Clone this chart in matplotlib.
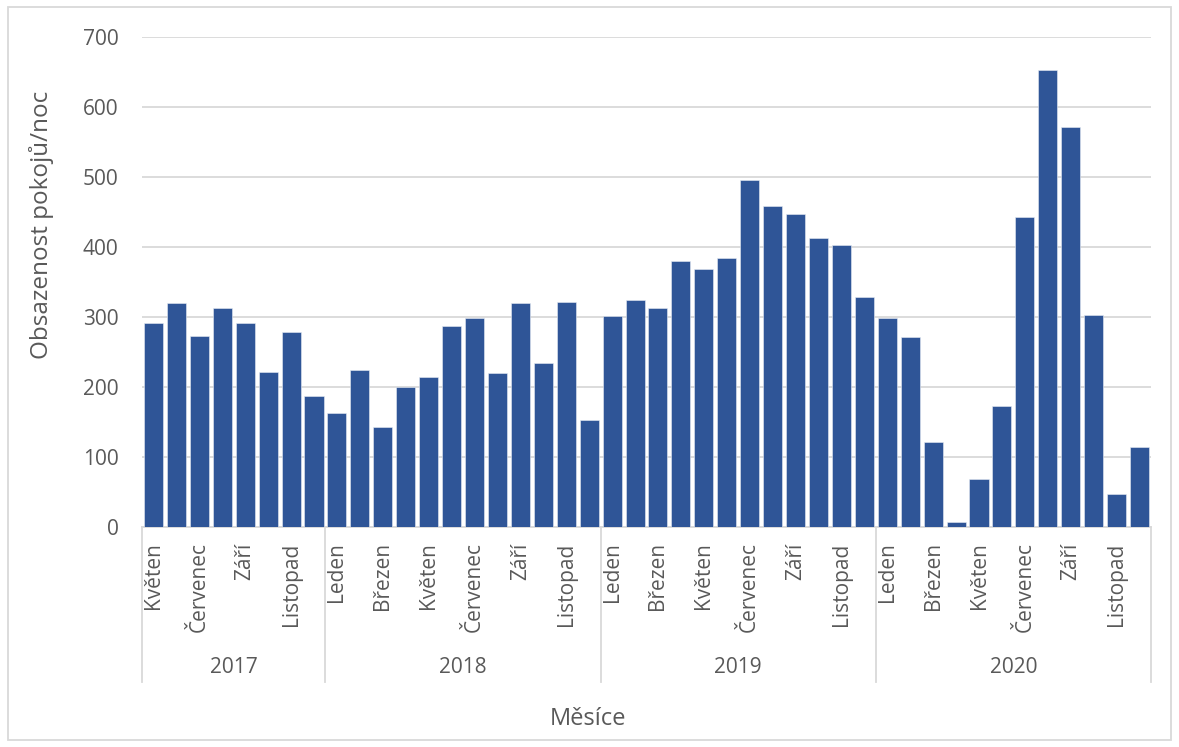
import matplotlib.pyplot as plt
from matplotlib.patches import Rectangle
import matplotlib.transforms as mtransforms

plt.rcParams['font.family'] = ['Open Sans', 'DejaVu Sans']

months = ['Leden', 'Únor', 'Březen', 'Duben', 'Květen', 'Červen',
          'Červenec', 'Srpen', 'Září', 'Říjen', 'Listopad', 'Prosinec']
years = ['2017', '2018', '2019', '2020']

# 2017 starts in May
values_2017 = [291, 320, 273, 313, 291, 221, 278, 187]
values_2018 = [163, 225, 143, 200, 215, 287, 298, 220, 320, 235, 321, 153]
values_2019 = [301, 325, 313, 380, 369, 385, 496, 458, 447, 413, 403, 329]
values_2020 = [298, 271, 121, 7, 69, 173, 443, 653, 571, 303, 47, 115]

series = [values_2017, values_2018, values_2019, values_2020]
first_month = [4, 0, 0, 0]

values = []
labels = []
year_spans = []
for yr, vals, m0 in zip(years, series, first_month):
    start = len(values)
    for i, v in enumerate(vals):
        values.append(v)
        labels.append(months[m0 + i])
    year_spans.append((yr, start, len(values)))

text_col = '#595959'
grid_col = '#D9D9D9'
bar_col = '#2F5597'

fig = plt.figure(figsize=(11.79, 7.47), dpi=100)
ax = fig.add_axes([142/1179, 1 - 527/747, (1151 - 142)/1179, 490/747])

x = list(range(len(values)))
ax.bar(x, values, width=0.83, color=bar_col, edgecolor='#E8EDF5', linewidth=0.4, zorder=3)

ax.set_xlim(-0.5, len(values) - 0.5)
ax.set_ylim(0, 700)
ax.set_yticks(range(0, 701, 100))
ax.yaxis.grid(True, color=grid_col, linewidth=1.3, zorder=0)
ax.tick_params(axis='y', length=0, pad=17, labelsize=15, labelcolor=text_col)

tick_pos = [i for i in x if i % 2 == 0]
ax.set_xticks(tick_pos)
ax.set_xticklabels([labels[i] for i in tick_pos], rotation=90, va='top', ha='center')
ax.tick_params(axis='x', length=0, pad=11, labelsize=15, labelcolor=text_col)

for s in ['top', 'right', 'left']:
    ax.spines[s].set_visible(False)
ax.spines['bottom'].set_color(grid_col)
ax.spines['bottom'].set_linewidth(1.3)

trans = mtransforms.blended_transform_factory(ax.transData, ax.transAxes)
bounds = [-0.5] + [end - 0.5 for _, _, end in year_spans]
for b in bounds:
    ax.plot([b, b], [0, -0.316], transform=trans, color=grid_col, lw=1.3, clip_on=False)
for yr, start, end in year_spans:
    ax.text((start + end - 1) / 2, -0.286, yr, transform=trans, ha='center', va='center',
            fontsize=15, color=text_col)

fig.text(588/1179, 1 - 719/747, 'Měsíce', ha='center', va='center', fontsize=17, color=text_col)
fig.text(42/1179, 1 - 225/747, 'Obsazenost pokojů/noc', ha='center', va='center',
         rotation=90, fontsize=17.5, color=text_col)

fig.patches.append(Rectangle((8/1179, 7/747), 1 - 16/1179, 1 - 14/747, transform=fig.transFigure,
                             fill=False, edgecolor=grid_col, linewidth=1.3))

fig.savefig('out.png', dpi=100)
